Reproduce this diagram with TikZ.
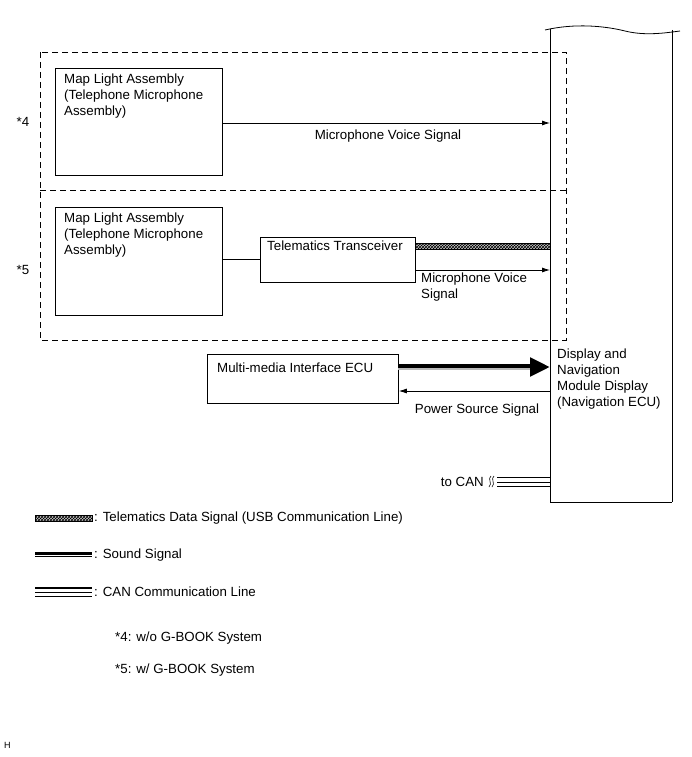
\documentclass[tikz,border=0pt]{standalone}
\usepackage{fontspec}
\setmainfont{Liberation Sans}
\usetikzlibrary{arrows.meta,patterns}
\begin{document}
\begin{tikzpicture}[x=1pt,y=-1pt,
  lbl/.style={font=\fontsize{13.3}{16}\selectfont, inner sep=0pt, align=left},
  blk/.style={draw, line width=0.8pt},
  dsh/.style={draw, line width=0.8pt, dash pattern=on 6pt off 4pt},
  thin/.style={line width=0.8pt},
  hatch/.style={draw, line width=0.5pt, preaction={fill=gray!45}, pattern=crosshatch},
]
\useasboundingbox (0,0) rectangle (691,757);
% display module
\draw[thin] (550,502) -- (550,29) (672,30) -- (672,502) (550,502) -- (672,502);
\draw[thin] (545,30) .. controls (575,23) and (605,26) .. (625,31) .. controls (645,36) and (665,33) .. (680,31);
\node[lbl, anchor=north west] (dnm) at (557,349) {Display and\\Navigation\\Module Display\\(Navigation ECU)};
% dashed boxes
\draw[dsh] (40,52) rectangle (566,340);
\draw[dsh] (40,190) -- (566,190);
\node[lbl] (s4) at (23,122) {*4};
\node[lbl] (s5) at (23,270) {*5};
% box 1
\node[blk, minimum width=167pt, minimum height=107pt, anchor=north west] (m1) at (55,68) {};
\node[lbl, anchor=north west] at (64,74) {Map Light Assembly\\(Telephone Microphone\\Assembly)};
\coordinate (a1) at (550,123);
\draw[thin, -{Latex[length=8pt,width=5pt]}] (m1.east |- a1) -- (a1);
\node[lbl] at (388,136) {Microphone Voice Signal};
% box 2
\node[blk, minimum width=167pt, minimum height=108pt, anchor=north west] (m2) at (55,207) {};
\node[lbl, anchor=north west] at (64,213) {Map Light Assembly\\(Telephone Microphone\\Assembly)};
\node[blk, minimum width=155pt, minimum height=45pt, anchor=north west] (tt) at (260,237) {};
\node[lbl, anchor=west] at (267,246) {Telematics Transceiver};
\draw[thin] (m2.east |- 0,259) -- (tt.west |- 0,259);
\draw[hatch] (415,243) rectangle (550,249);
\coordinate (a2) at (550,270);
\draw[thin, -{Latex[length=8pt,width=5pt]}] (tt.east |- a2) -- (a2);
\node[lbl, anchor=north west] at (421,273) {Microphone Voice\\Signal};
% multimedia
\node[blk, minimum width=191pt, minimum height=49pt, anchor=north west] (mm) at (207,354) {};
\node[lbl, anchor=west] at (217,368) {Multi-media Interface ECU};
\draw[line width=6pt, -{Triangle[length=20pt,width=18pt]}] (mm.east |- 0,367) -- (550,367);
\draw[line width=1.2pt, gray!55] (398,369) -- (530,369);
\draw[thin, -{Latex[length=8pt,width=5pt]}] (550,391) -- (mm.east |- 0,391);
\node[lbl] at (477,410) {Power Source Signal};
% CAN
\node[lbl, anchor=east] (can) at (484,482) {to CAN};
\draw[line width=0.6pt] (491,476) .. controls (487,479) and (493,483) .. (489,487);
\draw[line width=0.6pt] (494,476) .. controls (490,479) and (496,483) .. (492,487);
\draw[line width=1.8pt] (497,477.5) -- (550,477.5);
\draw[line width=0.9pt] (497,482) -- (550,482);
\draw[line width=0.9pt] (497,486) -- (550,486);
% legend
\draw[hatch] (35,515) rectangle (92,521);
\node[lbl, anchor=west] at (94,518) {: Telematics Data Signal (USB Communication Line)};
\draw[line width=5pt] (35,554) -- (92,554);
\draw[line width=0.9pt, white] (35,555.5) -- (92,555.5);
\node[lbl, anchor=west] at (94,555) {: Sound Signal};
\draw[line width=1.8pt] (35,588) -- (92,588);
\draw[line width=0.9pt] (35,592.5) -- (92,592.5);
\draw[line width=0.9pt] (35,596.5) -- (92,596.5);
\node[lbl, anchor=west] at (94,592) {: CAN Communication Line};
\node[lbl, anchor=west] at (115,638) {*4: w/o G-BOOK System};
\node[lbl, anchor=west] at (115,670) {*5: w/ G-BOOK System};
\node[lbl, font=\fontsize{9}{10}\selectfont, anchor=west] at (4,745) {H};
\end{tikzpicture}
\end{document}
